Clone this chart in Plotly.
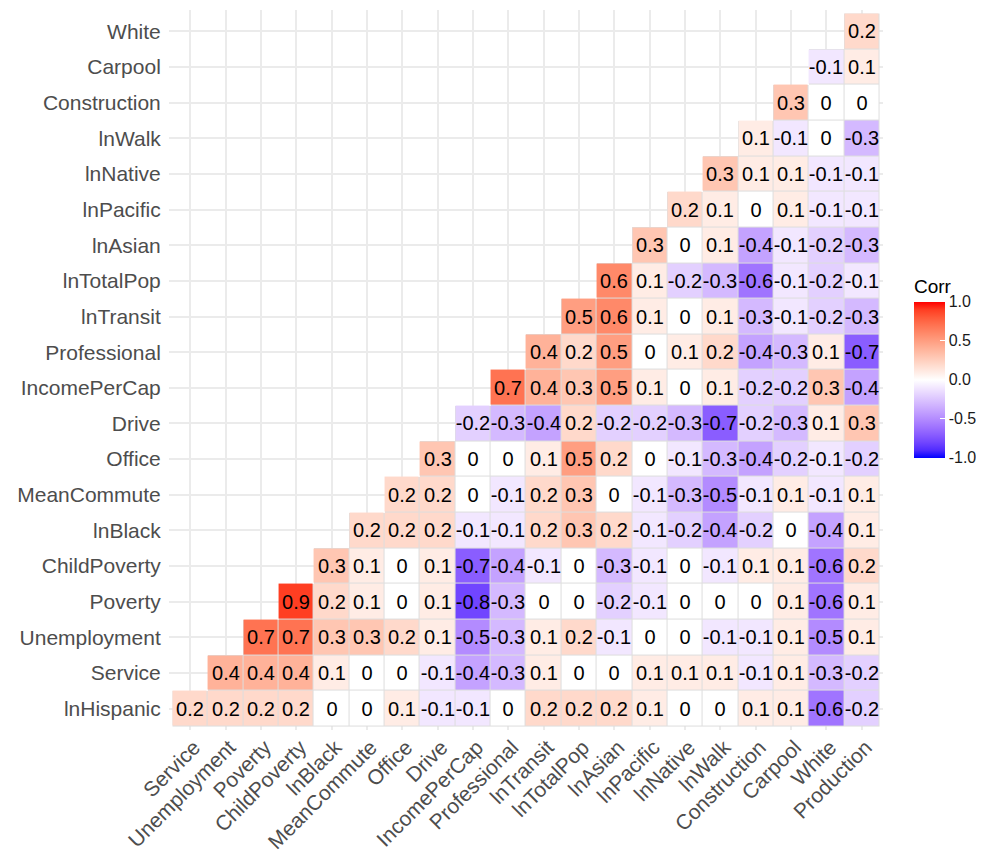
import plotly.graph_objects as go

# ── Data ──────────────────────────────────────────────────────────────────────
# variable order of the correlation matrix (row k pairs with column k..19)
ROW_VARS = ["lnHispanic", "Service", "Unemployment", "Poverty", "ChildPoverty",
            "lnBlack", "MeanCommute", "Office", "Drive", "IncomePerCap",
            "Professional", "lnTransit", "lnTotalPop", "lnAsian", "lnPacific",
            "lnNative", "lnWalk", "Construction", "Carpool", "White"]
COL_VARS = ["Service", "Unemployment", "Poverty", "ChildPoverty", "lnBlack",
            "MeanCommute", "Office", "Drive", "IncomePerCap", "Professional",
            "lnTransit", "lnTotalPop", "lnAsian", "lnPacific", "lnNative",
            "lnWalk", "Construction", "Carpool", "White", "Production"]

# each row lists its visible cells, left to right (lower triangle)
r_lnHispanic = [0.2, 0.2, 0.2, 0.2, 0, 0, 0.1, -0.1, -0.1, 0, 0.2, 0.2, 0.2, 0.1, 0, 0, 0.1, 0.1, -0.6, -0.2]
r_Service = [0.4, 0.4, 0.4, 0.1, 0, 0, -0.1, -0.4, -0.3, 0.1, 0, 0, 0.1, 0.1, 0.1, -0.1, 0.1, -0.3, -0.2]
r_Unemployment = [0.7, 0.7, 0.3, 0.3, 0.2, 0.1, -0.5, -0.3, 0.1, 0.2, -0.1, 0, 0, -0.1, -0.1, 0.1, -0.5, 0.1]
r_Poverty = [0.9, 0.2, 0.1, 0, 0.1, -0.8, -0.3, 0, 0, -0.2, -0.1, 0, 0, 0, 0.1, -0.6, 0.1]
r_ChildPoverty = [0.3, 0.1, 0, 0.1, -0.7, -0.4, -0.1, 0, -0.3, -0.1, 0, -0.1, 0.1, 0.1, -0.6, 0.2]
r_lnBlack = [0.2, 0.2, 0.2, -0.1, -0.1, 0.2, 0.3, 0.2, -0.1, -0.2, -0.4, -0.2, 0, -0.4, 0.1]
r_MeanCommute = [0.2, 0.2, 0, -0.1, 0.2, 0.3, 0, -0.1, -0.3, -0.5, -0.1, 0.1, -0.1, 0.1]
r_Office = [0.3, 0, 0, 0.1, 0.5, 0.2, 0, -0.1, -0.3, -0.4, -0.2, -0.1, -0.2]
r_Drive = [-0.2, -0.3, -0.4, 0.2, -0.2, -0.2, -0.3, -0.7, -0.2, -0.3, 0.1, 0.3]
r_IncomePerCap = [0.7, 0.4, 0.3, 0.5, 0.1, 0, 0.1, -0.2, -0.2, 0.3, -0.4]
r_Professional = [0.4, 0.2, 0.5, 0, 0.1, 0.2, -0.4, -0.3, 0.1, -0.7]
r_lnTransit = [0.5, 0.6, 0.1, 0, 0.1, -0.3, -0.1, -0.2, -0.3]
r_lnTotalPop = [0.6, 0.1, -0.2, -0.3, -0.6, -0.1, -0.2, -0.1]
r_lnAsian = [0.3, 0, 0.1, -0.4, -0.1, -0.2, -0.3]
r_lnPacific = [0.2, 0.1, 0, 0.1, -0.1, -0.1]
r_lnNative = [0.3, 0.1, 0.1, -0.1, -0.1]
r_lnWalk = [0.1, -0.1, 0, -0.3]
r_Construction = [0.3, 0, 0]
r_Carpool = [-0.1, 0.1]
r_White = [0.2]

ROWS = [r_lnHispanic, r_Service, r_Unemployment, r_Poverty, r_ChildPoverty,
        r_lnBlack, r_MeanCommute, r_Office, r_Drive, r_IncomePerCap,
        r_Professional, r_lnTransit, r_lnTotalPop, r_lnAsian, r_lnPacific,
        r_lnNative, r_lnWalk, r_Construction, r_Carpool, r_White]

COLORBAR_TICKS = [-1.0, -0.5, 0.0, 0.5, 1.0]

# ── Lab-space diverging palette (blue → white → red, like gradient2) ──────────

def _to_lab(hx):
    rgb = [int(hx[i:i + 2], 16) / 255 for i in (1, 3, 5)]
    r, g, b = [c / 12.92 if c <= 0.04045 else ((c + 0.055) / 1.055) ** 2.4 for c in rgb]
    x = (0.4124 * r + 0.3576 * g + 0.1805 * b) / 0.95047
    y = 0.2126 * r + 0.7152 * g + 0.0722 * b
    z = (0.0193 * r + 0.1192 * g + 0.9505 * b) / 1.08883
    f = lambda t: t ** (1 / 3) if t > 0.008856 else 7.787 * t + 16 / 116
    return 116 * f(y) - 16, 500 * (f(x) - f(y)), 200 * (f(y) - f(z))


def _from_lab(L, a, b):
    fy = (L + 16) / 116
    fx, fz = fy + a / 500, fy - b / 200
    inv = lambda t: t ** 3 if t ** 3 > 0.008856 else (t - 16 / 116) / 7.787
    x, y, z = inv(fx) * 0.95047, inv(fy), inv(fz) * 1.08883
    r = 3.2406 * x - 1.5372 * y - 0.4986 * z
    g = -0.9689 * x + 1.8758 * y + 0.0415 * z
    bb = 0.0557 * x - 0.2040 * y + 1.0570 * z
    out = []
    for c in (r, g, bb):
        c = 12.92 * c if c <= 0.0031308 else 1.055 * c ** (1 / 2.4) - 0.055
        out.append(max(0, min(255, round(c * 255))))
    return "rgb({},{},{})".format(*out)


def lab_scale(low, mid, high, n=20):
    lo, md, hi = _to_lab(low), _to_lab(mid), _to_lab(high)
    scale = []
    for i in range(n + 1):
        t = i / n
        if t <= 0.5:
            a, b, u = lo, md, t / 0.5
        else:
            a, b, u = md, hi, (t - 0.5) / 0.5
        scale.append([t, _from_lab(*[a[k] + (b[k] - a[k]) * u for k in range(3)])])
    return scale


# ── Build matrix ──────────────────────────────────────────────────────────────
z, txt, outline = [], [], []
for k, vals in enumerate(ROWS):
    row = [None] * k + list(vals)
    z.append(row)
    txt.append(["" if v is None else f"{v:g}" for v in row])
    outline.append([None if v is None else 0 for v in row])

FONT = "Liberation Sans, Arial, Helvetica, sans-serif"

fig = go.Figure()
# grey layer that shows through the tile gaps as outlines
fig.add_trace(go.Heatmap(
    x=COL_VARS, y=ROW_VARS, z=outline, zmin=0, zmax=1,
    colorscale=[[0, "#dedede"], [1, "#dedede"]], showscale=False,
    hoverinfo="skip",
))
fig.add_trace(go.Heatmap(
    x=COL_VARS, y=ROW_VARS, z=z, zmin=-1, zmax=1,
    colorscale=lab_scale("#0000FF", "#FFFFFF", "#FF0000"),
    xgap=1, ygap=1, hoverongaps=False,
    text=txt, texttemplate="%{text}",
    textfont=dict(family=FONT, size=20, color="#000000"),
    colorbar=dict(
        title=dict(text="Corr", side="top", font=dict(family=FONT, size=19, color="#000000")),
        tickvals=COLORBAR_TICKS, ticktext=[f"{v:.1f}" for v in COLORBAR_TICKS],
        tickfont=dict(family=FONT, size=16, color="#1a1a1a"),
        ticks="inside", ticklen=5, tickcolor="#ffffff",
        outlinewidth=0, thickness=31, lenmode="pixels", len=182,
        x=1.0433, xanchor="left", y=0.378, yanchor="bottom", xpad=0, ypad=0,
    ),
))

fig.update_xaxes(
    range=[-0.6, 19.6], tickangle=-45, showgrid=True, gridcolor="#ebebeb", gridwidth=2,
    tickfont=dict(family=FONT, size=21, color="#4d4d4d"), ticks="", zeroline=False,
    showline=False, automargin=False, ticklabelshift=4,
)
fig.update_yaxes(
    range=[-0.6, 19.6], showgrid=True, gridcolor="#ebebeb", gridwidth=2,
    tickfont=dict(family=FONT, size=21, color="#4d4d4d"), ticks="outside",
    ticklen=3, tickcolor="rgba(0,0,0,0)", zeroline=False,
    showline=False, automargin=False,
)
# page body adds an 8px offset, so the figure is 8px smaller each way
fig.update_layout(
    width=976, height=846, paper_bgcolor="white", plot_bgcolor="white",
    margin=dict(l=161, r=99, t=2, b=124),
    font=dict(family=FONT),
)

fig.write_html("out.html")
